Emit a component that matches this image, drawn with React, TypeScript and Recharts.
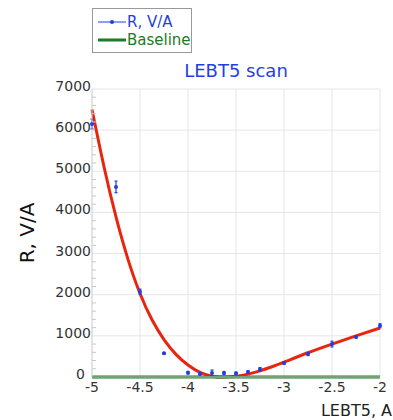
import React from 'react';
import {
  ComposedChart,
  Line,
  Scatter,
  ErrorBar,
  XAxis,
  YAxis,
  CartesianGrid,
  Legend,
} from 'recharts';

// measured points (LEBT5 current, R and its error)
const scanX = [-5, -4.75, -4.5, -4.25, -4, -3.875, -3.75, -3.625, -3.5, -3.375, -3.25, -3, -2.75, -2.5, -2.25, -2];
const scanR = [6150, 4620, 2075, 575, 105, 75, 100, 95, 90, 120, 190, 340, 560, 800, 975, 1245];
const scanErr = [120, 140, 60, 20, 30, 25, 70, 40, 25, 30, 40, 30, 40, 70, 30, 50];

// fitted curve
const fitX = [-5, -4.875, -4.75, -4.625, -4.5, -4.375, -4.25, -4.125, -4, -3.875, -3.75, -3.625, -3.5, -3.375, -3.25, -3.125, -3, -2.75, -2.5, -2.25, -2];
const fitR = [6500, 5110, 3890, 2860, 2030, 1390, 910, 550, 290, 110, 20, 0, 20, 70, 150, 250, 360, 590, 800, 1000, 1190];

const baseX = [-5, -2];
const baseR = [0, 0];

const xTicks = [-5, -4.5, -4, -3.5, -3, -2.5, -2];
const yMajor = [0, 1000, 2000, 3000, 4000, 5000, 6000, 7000];
const yTicks = Array.from({ length: 36 }, (_, i) => i * 200);

const BLUE = '#1f3fe4';
const RED = '#e8260f';
const GREEN = '#1d7a28';

const points = scanX.map((x, i) => ({ x, r: scanR[i], err: scanErr[i] }));
const fit = fitX.map((x, i) => ({ x, fit: fitR[i] }));
const baseline = baseX.map((x, i) => ({ x, base: baseR[i] }));

const YTick = (props: any) => {
  const { x, y, payload } = props;
  const v = payload.value;
  if (yMajor.includes(v)) {
    // the zero label steps left so it clears the x tick in the corner
    const lx = v === 0 ? x - 6 : x;
    return (
      <text x={lx} y={y - 3} textAnchor="end" dominantBaseline="central" fill="#333" fontSize={14}>
        {v}
      </text>
    );
  }
  return <line x1={x + 1} x2={x + 5} y1={y} y2={y} stroke="#c8c8c8" strokeWidth={1} />;
};

const LegendBox = () => (
  <div
    style={{
      border: '1px solid #999',
      background: '#fff',
      width: 94,
      padding: '4px 0 3px 4px',
      fontSize: 15,
      lineHeight: '18px',
      fontFamily: 'DejaVu Sans',
    }}
  >
    <div style={{ display: 'flex', alignItems: 'center', color: BLUE }}>
      <svg width={30} height={10}>
        <line x1={1} x2={29} y1={5} y2={5} stroke={BLUE} strokeWidth={1} />
        <circle cx={15} cy={5} r={2} fill={BLUE} />
      </svg>
      <span>R, V/A</span>
    </div>
    <div style={{ display: 'flex', alignItems: 'center', color: GREEN }}>
      <svg width={30} height={10}>
        <line x1={1} x2={29} y1={5} y2={5} stroke={GREEN} strokeWidth={3} />
      </svg>
      <span>Baseline</span>
    </div>
  </div>
);

export default function App() {
  return (
    <div style={{ position: 'absolute', left: 0, top: 0, width: 393, height: 420, background: '#fff' }}>
      <ComposedChart
        width={393}
        height={420}
        margin={{ top: 89, right: 13, bottom: 13, left: 32 }}
        style={{ fontFamily: 'DejaVu Sans' }}
      >
        <CartesianGrid
          stroke="#e6e6e6"
          horizontalValues={yMajor.slice(1)}
          verticalValues={xTicks.slice(1)}
        />
        <XAxis
          dataKey="x"
          type="number"
          domain={[-5, -2]}
          ticks={xTicks}
          allowDecimals
          height={30}
          tickLine={false}
          tickSize={0}
          tickMargin={5}
          axisLine={{ stroke: '#c8c8c8' }}
          tick={{ fill: '#333', fontSize: 14 }}
          label={{
            content: (p: any) => (
              <text
                x={p.viewBox.x + p.viewBox.width + 12}
                y={p.viewBox.y + 39}
                textAnchor="end"
                fill="#222"
                fontSize={16}
              >
                LEBT5, A
              </text>
            ),
          }}
        />
        <YAxis
          type="number"
          domain={[0, 7000]}
          ticks={yTicks}
          width={60}
          tickLine={false}
          tickSize={0}
          tickMargin={1}
          interval={0}
          axisLine={{ stroke: '#c8c8c8' }}
          tick={<YTick />}
          label={{
            content: (p: any) => {
              const cx = p.viewBox.x + 2;
              const cy = p.viewBox.y + p.viewBox.height / 2;
              return (
                <text
                  x={cx}
                  y={cy}
                  transform={`rotate(-90 ${cx} ${cy})`}
                  textAnchor="middle"
                  fill="#111"
                  fontSize={20}
                >
                  R, V/A
                </text>
              );
            },
          }}
        />
        <Legend
          layout="horizontal"
          verticalAlign="middle"
          align="center"
          wrapperStyle={{ top: 8, left: 92, width: 100 }}
          content={<LegendBox />}
        />
        <Line
          data={fit}
          dataKey="fit"
          type="natural"
          stroke={RED}
          strokeWidth={3}
          dot={false}
          isAnimationActive={false}
        />
        <Line
          data={baseline}
          dataKey="base"
          type="linear"
          stroke={GREEN}
          strokeWidth={3}
          dot={false}
          isAnimationActive={false}
        />
        <Scatter
          data={points}
          dataKey="r"
          fill={BLUE}
          isAnimationActive={false}
          shape={(p: any) => <circle cx={p.cx} cy={p.cy} r={2} fill={BLUE} />}
        >
          <ErrorBar dataKey="err" direction="y" width={1.5} stroke={BLUE} strokeWidth={1.2} />
        </Scatter>
        <text x={236} y={77} textAnchor="middle" fill={BLUE} fontSize={18}>
          LEBT5 scan
        </text>
      </ComposedChart>
    </div>
  );
}
